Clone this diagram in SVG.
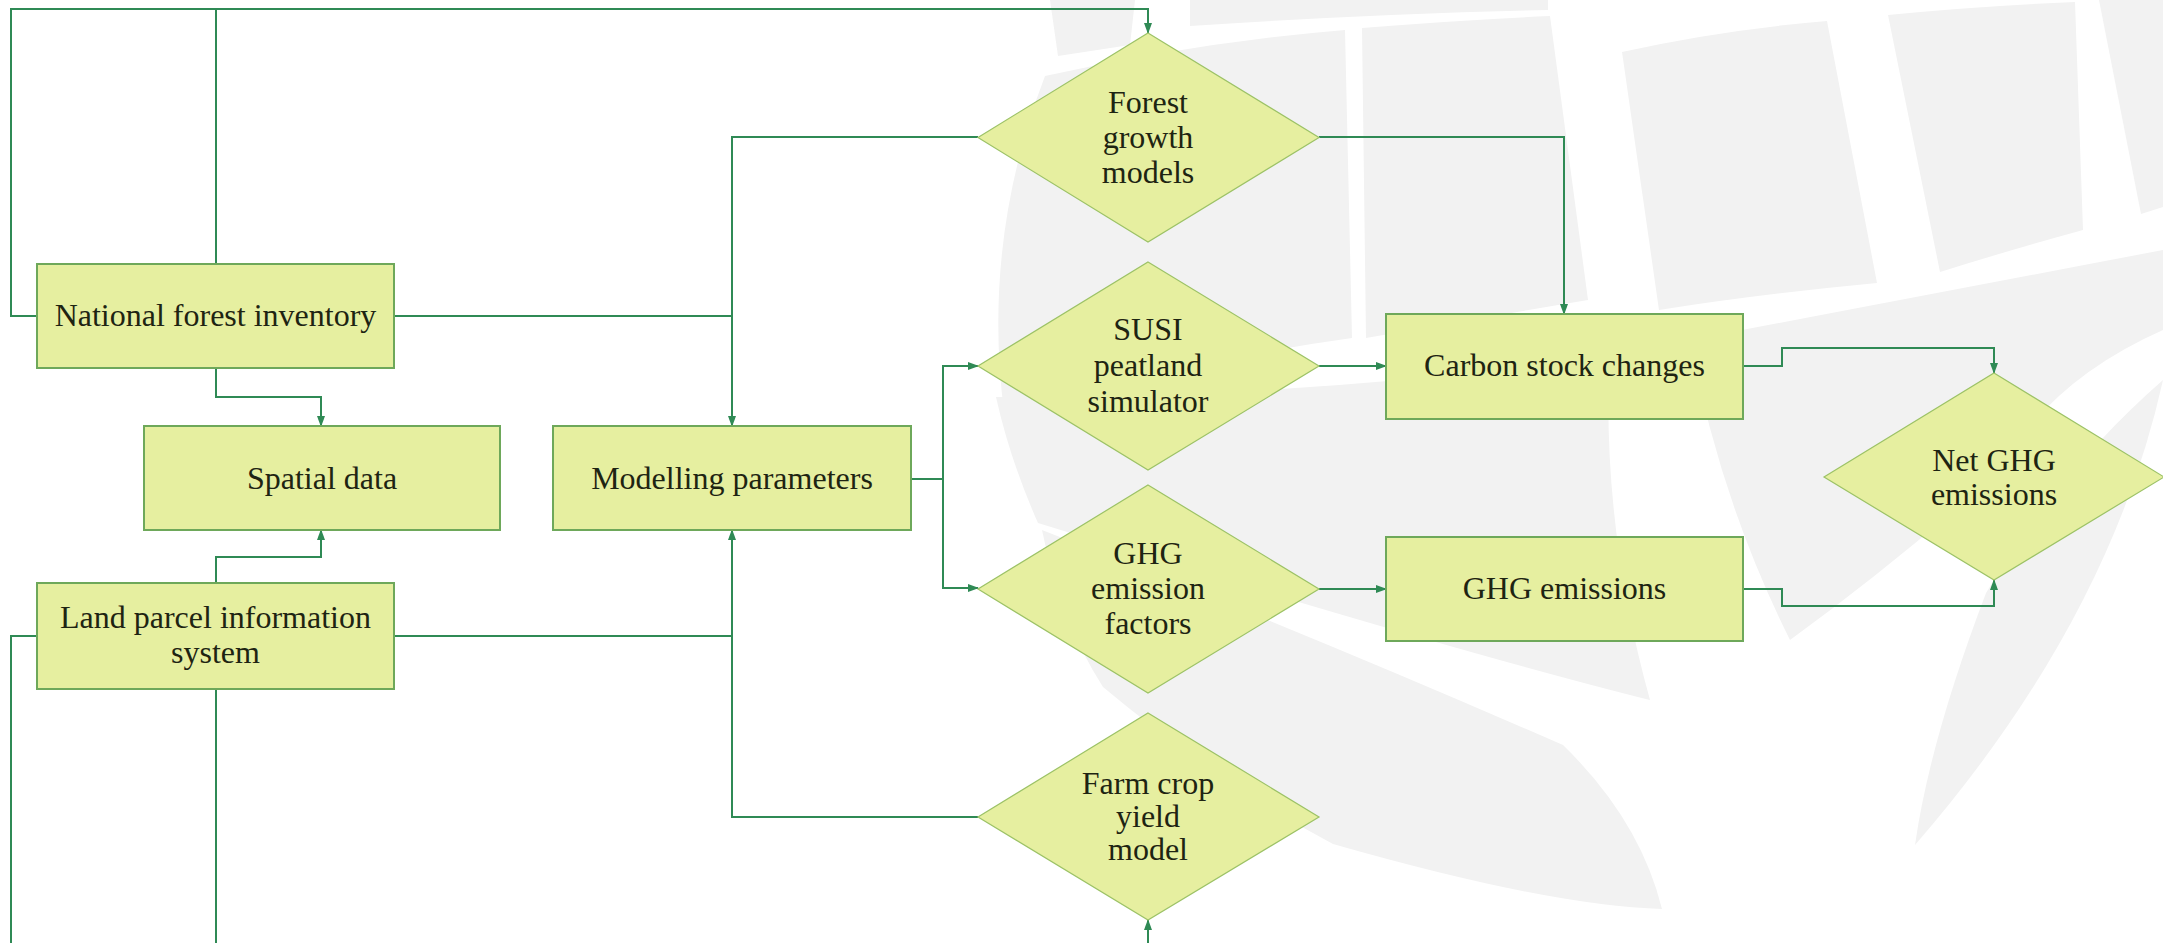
<svg xmlns="http://www.w3.org/2000/svg" width="2163" height="943" viewBox="0 0 2163 943">
<style>
.wm{fill:#f2f2f2;stroke:none}
.box{fill:#e6efa0;stroke:#6ea85a;stroke-width:2}
.dia{fill:#e6efa0;stroke:#9cc266;stroke-width:1.2}
.t{font-family:"Liberation Serif","Times New Roman",serif;font-size:32px;fill:#1e2412;text-anchor:middle}
.c{fill:none;stroke:#2f8a55;stroke-width:2}
.ca{fill:none;stroke:#2f8a55;stroke-width:2;marker-end:url(#ah)}
</style>
<defs>
<marker id="ah" markerUnits="userSpaceOnUse" markerWidth="11" markerHeight="8" refX="10" refY="4" orient="auto">
<path d="M0,0 L11,4 L0,8 z" fill="#2f8a55"/>
</marker>
</defs>
<rect x="0" y="0" width="2163" height="943" fill="#ffffff"/>
<g id="watermark">
<path class="wm" d="M1050,0 L1135,0 L1130,45 L1058,56 Z"/>
<path class="wm" d="M1190,0 L1548,0 L1548,10 Q1370,14 1190,26 Z"/>
<path class="wm" d="M1045,76 Q1200,42 1345,30 L1352,338 Q1180,362 1004,412 Q982,240 1045,76 Z"/>
<path class="wm" d="M1362,28 Q1460,20 1550,16 L1588,300 Q1480,318 1366,338 Z"/>
<path class="wm" d="M1622,52 Q1720,30 1827,21 L1877,283 Q1760,294 1659,310 Z"/>
<path class="wm" d="M1888,15 Q1980,6 2075,2 L2083,230 Q2010,250 1940,272 Z"/>
<path class="wm" d="M2099,0 L2163,0 L2163,207 L2141,214 Z"/>
<path class="wm" d="M996,397 Q1200,398 1400,380 Q1560,365 1610,345 Q1600,520 1650,700 Q1450,650 1038,523 Q1010,460 996,397 Z"/>
<path class="wm" d="M1690,340 Q1900,300 2163,250 L2163,330 Q2050,380 2000,470 Q1900,560 1790,640 Q1720,500 1690,340 Z"/>
<path class="wm" d="M1042,530 Q1300,630 1563,745 Q1640,820 1662,909 Q1550,906 1333,844 Q1218,783 1103,687 Q1060,620 1042,530 Z"/>
<path class="wm" d="M2163,380 Q2110,620 1915,845 Q1930,740 1986,593 Q2060,470 2163,380 Z"/>
</g>
<g id="connectors">
<path class="ca" d="M216,264 V9 H1148 V33"/>
<path class="c" d="M37,316 H11 V9 H216"/>
<path class="c" d="M37,636 H11 V943"/>
<path class="c" d="M216,689 V943"/>
<path class="ca" d="M1148,943 V920"/>
<path class="ca" d="M216,368 V397 H321 V426"/>
<path class="ca" d="M216,583 V557 H321 V530"/>
<path class="c" d="M394,316 H732"/>
<path class="ca" d="M978,137 H732 V426"/>
<path class="c" d="M394,636 H732"/>
<path class="ca" d="M978,817 H732 V530"/>
<path class="ca" d="M911,479 H943 V366 H978"/>
<path class="ca" d="M943,479 V588 H978"/>
<path class="ca" d="M1319,137 H1564 V314"/>
<path class="ca" d="M1319,366 H1386"/>
<path class="ca" d="M1319,589 H1386"/>
<path class="ca" d="M1743,366 H1782 V348 H1994 V373"/>
<path class="ca" d="M1743,589 H1782 V606 H1994 V580"/>
</g>
<g id="nfi">
<rect class="box" x="37" y="264" width="357" height="104"/>
<text class="t" x="215.5" y="326">National forest inventory</text>
</g>
<g id="spatial">
<rect class="box" x="144" y="426" width="356" height="104"/>
<text class="t" x="322" y="489">Spatial data</text>
</g>
<g id="modelling">
<rect class="box" x="553" y="426" width="358" height="104"/>
<text class="t" x="732" y="489">Modelling parameters</text>
</g>
<g id="lpis">
<rect class="box" x="37" y="583" width="357" height="106"/>
<text class="t" x="215.5" y="628">Land parcel information</text>
<text class="t" x="215.5" y="663">system</text>
</g>
<g id="forest">
<polygon class="dia" points="1148,33 1319,137.5 1148,242 978,137.5"/>
<text class="t" x="1148" y="113">Forest</text>
<text class="t" x="1148" y="148">growth</text>
<text class="t" x="1148" y="183">models</text>
</g>
<g id="susi">
<polygon class="dia" points="1148,262 1319,366 1148,470 978,366"/>
<text class="t" x="1148" y="340">SUSI</text>
<text class="t" x="1148" y="376">peatland</text>
<text class="t" x="1148" y="412">simulator</text>
</g>
<g id="ghgfactors">
<polygon class="dia" points="1148,485 1319,589 1148,693 978,589"/>
<text class="t" x="1148" y="564">GHG</text>
<text class="t" x="1148" y="599">emission</text>
<text class="t" x="1148" y="634">factors</text>
</g>
<g id="farm">
<polygon class="dia" points="1148,713 1319,817 1148,920 978,817"/>
<text class="t" x="1148" y="794">Farm crop</text>
<text class="t" x="1148" y="827">yield</text>
<text class="t" x="1148" y="860">model</text>
</g>
<g id="carbon">
<rect class="box" x="1386" y="314" width="357" height="105"/>
<text class="t" x="1564.5" y="376">Carbon stock changes</text>
</g>
<g id="ghgemis">
<rect class="box" x="1386" y="537" width="357" height="104"/>
<text class="t" x="1564.5" y="599">GHG emissions</text>
</g>
<g id="netghg">
<polygon class="dia" points="1994,373 2164,477 1994,580 1824,477"/>
<text class="t" x="1994" y="471">Net GHG</text>
<text class="t" x="1994" y="505">emissions</text>
</g>
</svg>
